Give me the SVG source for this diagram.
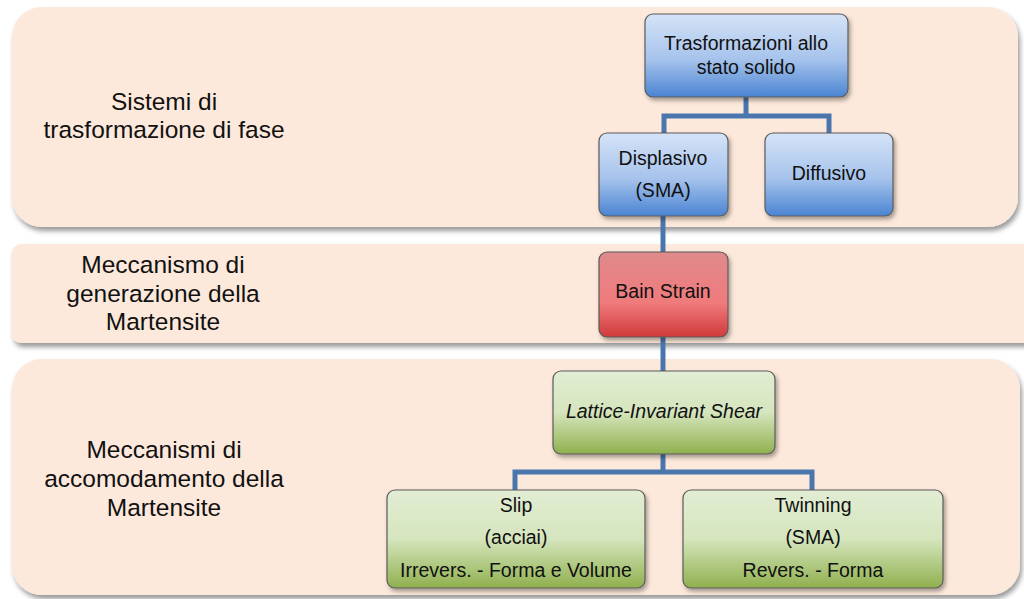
<svg xmlns="http://www.w3.org/2000/svg" width="1024" height="599" viewBox="0 0 1024 599">
<defs>
<filter id="sh" x="-10%" y="-10%" width="120%" height="130%">
<feDropShadow dx="2" dy="4" stdDeviation="2.5" flood-color="#000" flood-opacity="0.4"/>
</filter>
<filter id="nsh" x="-10%" y="-10%" width="125%" height="135%">
<feDropShadow dx="2" dy="3" stdDeviation="2" flood-color="#000" flood-opacity="0.35"/>
</filter>
<linearGradient id="gBlue" x1="0" y1="0" x2="0" y2="1">
<stop offset="0" stop-color="#d5e3f7"/>
<stop offset="0.55" stop-color="#a6c3ec"/>
<stop offset="1" stop-color="#4a84d2"/>
</linearGradient>
<linearGradient id="gRed" x1="0" y1="0" x2="0" y2="1">
<stop offset="0" stop-color="#e08a8c"/>
<stop offset="0.6" stop-color="#f07a7c"/>
<stop offset="1" stop-color="#d03a3a"/>
</linearGradient>
<linearGradient id="gGreen" x1="0" y1="0" x2="0" y2="1">
<stop offset="0" stop-color="#e2edd4"/>
<stop offset="0.5" stop-color="#d5e5bd"/>
<stop offset="1" stop-color="#8fb04e"/>
</linearGradient>
<style>
.band{fill:#fde9db;filter:url(#sh)}
.node{stroke:#5a5a5a;stroke-width:1.2;filter:url(#nsh)}
.lbl{font-family:"Liberation Sans",Arial,sans-serif;font-size:24.5px;fill:#111;text-anchor:middle}
.t{font-family:"Liberation Sans",Arial,sans-serif;font-size:19.5px;fill:#111;text-anchor:middle}
.conn{fill:none;stroke:#4a76ad;stroke-width:5}
</style>
</defs>
<rect width="1024" height="599" fill="#fff"/>
<g id="band1">
<rect class="band" x="12" y="7" width="1006" height="220" rx="30"/>
<text class="lbl" x="164" y="110">Sistemi di</text>
<text class="lbl" x="164" y="138">trasformazione di fase</text>
</g>
<g id="band2">
<rect class="band" x="12" y="244" width="1030" height="99" rx="9"/>
<text class="lbl" x="163" y="273">Meccanismo di</text>
<text class="lbl" x="163" y="302">generazione della</text>
<text class="lbl" x="163" y="330">Martensite</text>
</g>
<g id="band3">
<rect class="band" x="12" y="359" width="1008" height="236" rx="30"/>
<text class="lbl" x="164" y="458">Meccanismi di</text>
<text class="lbl" x="164" y="487">accomodamento della</text>
<text class="lbl" x="164" y="516">Martensite</text>
</g>
<g id="connectors">
<path class="conn" d="M746 97 V116 M664 133 V116 H829 V133"/>
<path class="conn" d="M663 216 V252"/>
<path class="conn" d="M663 337 V371"/>
<path class="conn" d="M663 454 V472 M515 490 V472 H812 V490"/>
</g>
<g id="n-trasformazioni">
<rect class="node" x="645" y="14" width="203" height="83" rx="8" fill="url(#gBlue)"/>
<text class="t" x="746" y="50">Trasformazioni allo</text>
<text class="t" x="746" y="74">stato solido</text>
</g>
<g id="n-displasivo">
<rect class="node" x="599" y="133" width="129" height="83" rx="8" fill="url(#gBlue)"/>
<text class="t" x="663" y="165">Displasivo</text>
<text class="t" x="663" y="197">(SMA)</text>
</g>
<g id="n-diffusivo">
<rect class="node" x="765" y="133" width="128" height="83" rx="8" fill="url(#gBlue)"/>
<text class="t" x="829" y="180">Diffusivo</text>
</g>
<g id="n-bain">
<rect class="node" x="599" y="252" width="129" height="85" rx="8" fill="url(#gRed)"/>
<text class="t" x="663" y="298">Bain Strain</text>
</g>
<g id="n-lattice">
<rect class="node" x="553" y="371" width="222" height="83" rx="8" fill="url(#gGreen)"/>
<text class="t" x="664" y="418" font-style="italic">Lattice-Invariant Shear</text>
</g>
<g id="n-slip">
<rect class="node" x="387" y="490" width="258" height="98" rx="8" fill="url(#gGreen)"/>
<text class="t" x="516" y="512">Slip</text>
<text class="t" x="516" y="544">(acciai)</text>
<text class="t" x="516" y="577">Irrevers. - Forma e Volume</text>
</g>
<g id="n-twinning">
<rect class="node" x="683" y="490" width="260" height="98" rx="8" fill="url(#gGreen)"/>
<text class="t" x="813" y="512">Twinning</text>
<text class="t" x="813" y="544">(SMA)</text>
<text class="t" x="813" y="577">Revers. - Forma</text>
</g>
</svg>
